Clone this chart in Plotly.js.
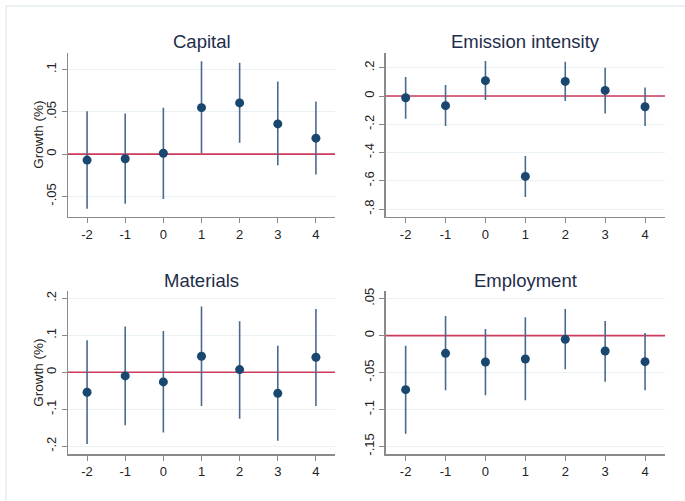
<!DOCTYPE html>
<html>
<head>
<meta charset="utf-8">
<script src="https://cdn.plot.ly/plotly-3.0.1.min.js"></script>
<style>html,body{margin:0;padding:0;background:#fff;}#chart{width:685px;height:501px;}</style>
</head>
<body>
<div id="chart"></div>
<script>
const periods = [-2, -1, 0, 1, 2, 3, 4];
const xRange = [-2.5, 4.5];

const capitalCoef = [-0.007, -0.0055, 0.001, 0.055, 0.0606, 0.0358, 0.0189];
const capitalLo   = [-0.0646, -0.0587, -0.053, 0.001, 0.0134, -0.013, -0.024];
const capitalHi   = [0.0508, 0.048, 0.055, 0.110, 0.108, 0.0858, 0.0622];

const emissionCoef = [-0.012, -0.068, 0.109, -0.569, 0.104, 0.040, -0.076];
const emissionLo   = [-0.160, -0.212, -0.028, -0.715, -0.035, -0.123, -0.212];
const emissionHi   = [0.135, 0.078, 0.248, -0.425, 0.243, 0.201, 0.061];

const materialsCoef = [-0.054, -0.0099, -0.026, 0.0433, 0.0072, -0.057, 0.0406];
const materialsLo   = [-0.194, -0.1436, -0.163, -0.091, -0.1255, -0.185, -0.091];
const materialsHi   = [0.0867, 0.1237, 0.112, 0.178, 0.138, 0.072, 0.1716];

const employmentCoef = [-0.0731, -0.0239, -0.0357, -0.0316, -0.005, -0.0208, -0.0352];
const employmentLo   = [-0.133, -0.074, -0.0808, -0.0876, -0.0456, -0.0623, -0.074];
const employmentHi   = [-0.0135, 0.0266, 0.009, 0.0248, 0.036, 0.0199, 0.0036];

const titles = ["Capital", "Emission intensity", "Materials", "Employment"];

const capitalTicks = [-0.05, 0, 0.05, 0.1];
const capitalTickText = ["-.05", "0", ".05", ".1"];
const emissionTicks = [-0.8, -0.6, -0.4, -0.2, 0, 0.2];
const emissionTickText = ["-.8", "-.6", "-.4", "-.2", "0", ".2"];
const materialsTicks = [-0.2, -0.1, 0, 0.1, 0.2];
const materialsTickText = ["-.2", "-.1", "0", ".1", ".2"];
const employmentTicks = [-0.15, -0.1, -0.05, 0, 0.05];
const employmentTickText = ["-.15", "-.1", "-.05", "0", ".05"];

const W = 685, H = 501;
const px = v => v / W;
const py = v => 1 - v / H;

const panels = [
  {coef: capitalCoef, lo: capitalLo, hi: capitalHi, tv: capitalTicks, tt: capitalTickText, range: [-0.074, 0.12], x0: 68, x1: 335, y0: 52.7, y1: 216.7},
  {coef: emissionCoef, lo: emissionLo, hi: emissionHi, tv: emissionTicks, tt: emissionTickText, range: [-0.854, 0.307], x0: 385.7, x1: 665, y0: 52.7, y1: 216.7},
  {coef: materialsCoef, lo: materialsLo, hi: materialsHi, tv: materialsTicks, tt: materialsTickText, range: [-0.222, 0.220], x0: 68, x1: 335, y0: 291, y1: 454.3},
  {coef: employmentCoef, lo: employmentLo, hi: employmentHi, tv: employmentTicks, tt: employmentTickText, range: [-0.1607, 0.0605], x0: 385.7, x1: 665, y0: 291, y1: 454.3}
];

const traces = [];
const layout = {
  width: W, height: H,
  margin: {l: 0, r: 0, t: 0, b: 0},
  paper_bgcolor: "#ffffff",
  plot_bgcolor: "#ffffff",
  showlegend: false,
  font: {family: "Liberation Sans, Arial, sans-serif", color: "#222222", size: 13},
  annotations: [],
  shapes: [
    {type: "rect", xref: "paper", yref: "paper", x0: px(6), x1: px(700), y0: py(520), y1: py(6),
     line: {color: "#e6edf1", width: 1.5}, fillcolor: "rgba(0,0,0,0)", layer: "below"}
  ]
};

panels.forEach((p, i) => {
  const n = i + 1;
  const xa = n === 1 ? "x" : "x" + n;
  const ya = n === 1 ? "y" : "y" + n;
  // reference line at zero
  traces.push({
    type: "scatter", mode: "lines",
    x: xRange, y: [0, 0],
    xaxis: xa, yaxis: ya,
    line: {color: "#cc3a5c", width: 1.6},
    hoverinfo: "skip"
  });
  traces.push({
    type: "scatter", mode: "markers",
    x: periods, y: p.coef,
    xaxis: xa, yaxis: ya,
    marker: {color: "#1a476f", size: 9},
    error_y: {
      type: "data", symmetric: false,
      array: p.hi.map((h, k) => h - p.coef[k]),
      arrayminus: p.coef.map((c, k) => c - p.lo[k]),
      color: "#4a6a8c", thickness: 1.6, width: 0
    },
    hoverinfo: "skip"
  });
  const xkey = n === 1 ? "xaxis" : "xaxis" + n;
  const ykey = n === 1 ? "yaxis" : "yaxis" + n;
  layout[xkey] = {
    domain: [px(p.x0), px(p.x1)],
    anchor: ya,
    range: xRange,
    tickvals: periods,
    ticktext: periods.map(String),
    ticks: "outside", ticklen: 5, tickwidth: 1, tickcolor: "#8a8a8a",
    showline: true, linecolor: "#8a8a8a", linewidth: 1.5,
    showgrid: false, zeroline: false,
    tickfont: {size: 13, color: "#222222"}
  };
  layout[ykey] = {
    domain: [py(p.y1), py(p.y0)],
    anchor: xa,
    range: p.range,
    tickvals: p.tv,
    ticktext: p.tt,
    tickangle: -90,
    ticks: "outside", ticklen: 5, tickwidth: 1, tickcolor: "#8a8a8a",
    showline: true, linecolor: "#8a8a8a", linewidth: 1.5,
    showgrid: true, gridcolor: "#eaf1f3", gridwidth: 1,
    zeroline: false,
    tickfont: {size: 13, color: "#222222"}
  };
  layout.annotations.push({
    text: titles[i], xref: "paper", yref: "paper",
    x: px((p.x0 + p.x1) / 2), y: py(p.y0 - 11),
    xanchor: "center", yanchor: "middle", showarrow: false,
    font: {size: 18.5, color: "#1e2d4b"}
  });
  if (i === 0 || i === 2) {
    layout.annotations.push({
      text: "Growth (%)", xref: "paper", yref: "paper",
      x: px(39), y: py((p.y0 + p.y1) / 2),
      xanchor: "center", yanchor: "middle", showarrow: false, textangle: -90,
      font: {size: 13.5, color: "#222222"}
    });
  }
});

Plotly.newPlot("chart", traces, layout, {staticPlot: true});
</script>
</body>
</html>
